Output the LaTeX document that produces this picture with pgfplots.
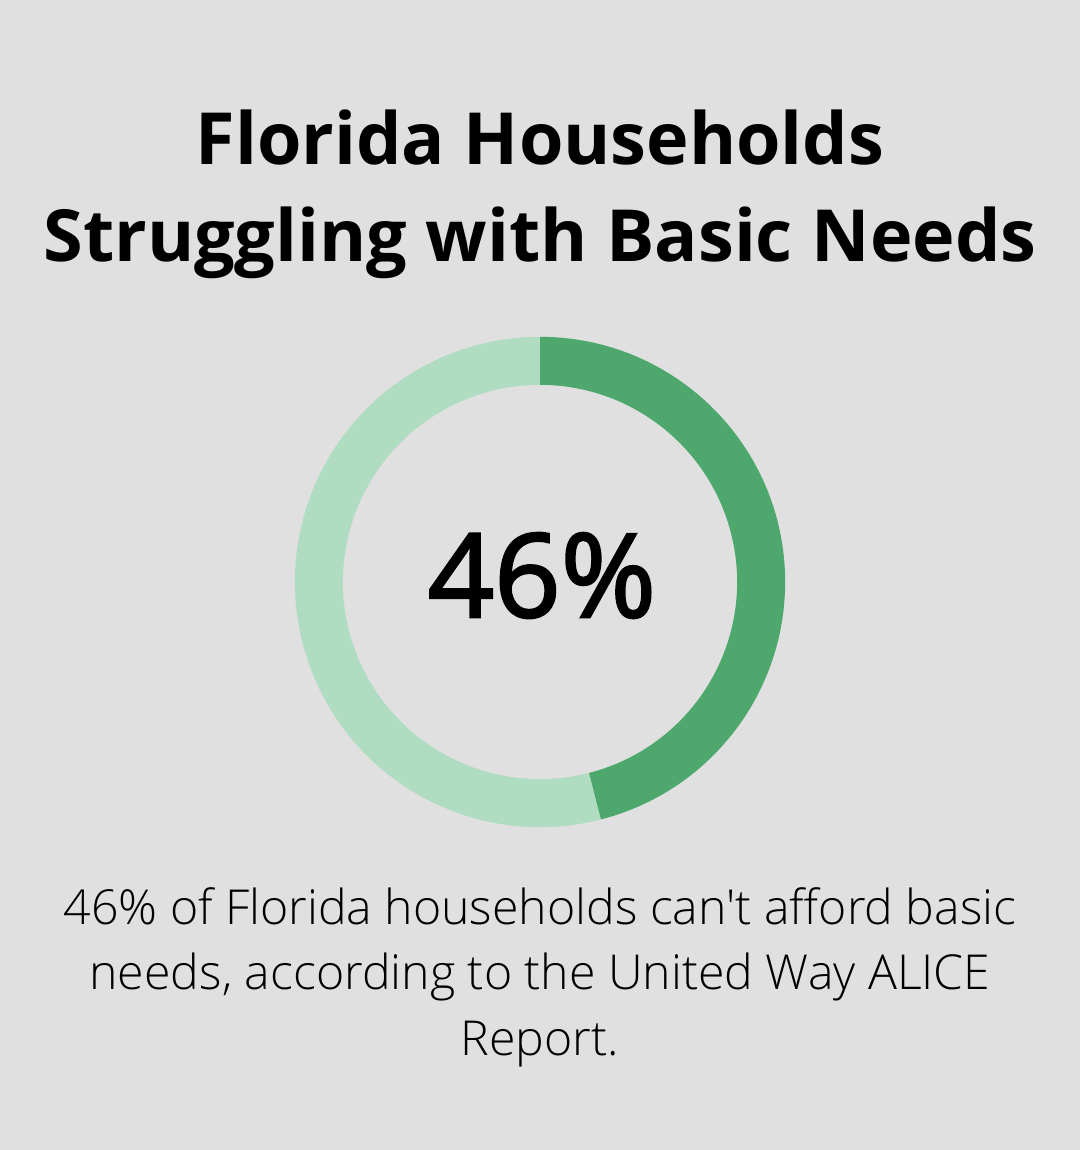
\documentclass[border=0pt]{standalone}
\usepackage{pgfplots}
\pgfplotsset{compat=1.18}
\usepackage{pgfplotstable}
\usepackage{fontspec}
\setmainfont{Open Sans}
\newfontfamily\lightfont{Open Sans Light}
\newfontfamily\semifont{Open Sans}[FakeBold=2.2]
\definecolor{bgc}{HTML}{DFE0DF}
\definecolor{darkg}{HTML}{4EA86D}
\definecolor{lightg}{HTML}{B0DCC2}
\pgfplotstableread{
label value
Struggling 46
Other 54
}\datatable
\pgfplotstablegetelem{0}{value}\of\datatable
\let\valA\pgfplotsretval
\pgfmathsetmacro\endA{90-3.6*\valA}
\pgfmathsetmacro\inA{\endA+180}
\begin{document}%
\begin{tikzpicture}
\begin{axis}[x=0.01cm,y=0.01cm,xmin=0,xmax=1080,ymin=0,ymax=1150,hide axis,clip=false]
\coordinate (sw) at (axis cs:0,0);
\coordinate (ne) at (axis cs:1080,1150);
\fill[bgc] (axis cs:0,0) rectangle (axis cs:1080,1150);
% light segment (remaining share)
\fill[lightg] (axis cs:540,568) ++(\endA:2.45cm) arc[start angle=\endA, end angle=-270, radius=2.45cm] -- ++(-90:0.48cm) arc[start angle=-270, end angle=\endA, radius=1.97cm] -- cycle;
% dark segment (46%)
\fill[darkg] (axis cs:540,568) ++(90:2.45cm) arc[start angle=90, end angle=\endA, radius=2.45cm] -- ++(\inA:0.48cm) arc[start angle=\endA, end angle=90, radius=1.97cm] -- cycle;
\node[anchor=base, inner sep=0, font=\bfseries\fontsize{20.45}{26}\selectfont] at (axis cs:540,985) {Florida Households};
\node[anchor=base, inner sep=0, font=\bfseries\fontsize{20.45}{26}\selectfont] at (axis cs:540,888) {Struggling with Basic Needs};
\node[anchor=base, inner sep=0, font=\semifont\fontsize{33}{40}\selectfont] at (axis cs:542,533) {\valA\%};
\node[anchor=base, inner sep=0, font=\lightfont\fontsize{13.7}{18.8}\selectfont] at (axis cs:540,225) {46\% of Florida households can't afford basic};
\node[anchor=base, inner sep=0, font=\lightfont\fontsize{13.7}{18.8}\selectfont] at (axis cs:540,160) {needs, according to the United Way ALICE};
\node[anchor=base, inner sep=0, font=\lightfont\fontsize{13.7}{18.8}\selectfont] at (axis cs:540,94) {Report.};
\end{axis}
\pgfresetboundingbox
\path[use as bounding box] (sw) rectangle (ne);
\end{tikzpicture}%
\end{document}
